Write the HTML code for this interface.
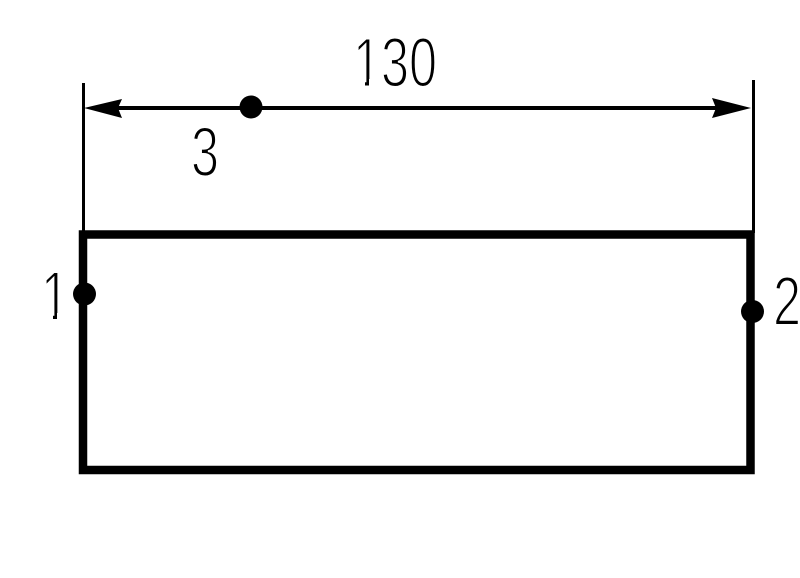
<!DOCTYPE html>
<html>
<head>
<meta charset="utf-8">
<style>
html,body{margin:0;padding:0;background:#fff;width:800px;height:578px;overflow:hidden}
svg{display:block}
text{font-family:"Liberation Sans",sans-serif;font-size:70px;fill:#000;stroke:#fff;stroke-width:2px;paint-order:normal}
</style>
</head>
<body>
<svg width="800" height="578" viewBox="0 0 800 578" xmlns="http://www.w3.org/2000/svg">
<rect width="800" height="578" fill="#fff"/>
<!-- labels -->
<text transform="translate(353 86.5) scale(.72 1)">130</text>
<text transform="translate(191 176) scale(.72 1)">3</text>
<text transform="translate(41 320) scale(.72 1)">1</text>
<text transform="translate(773 325) scale(.72 1)">2</text>
<!-- remove the foot of each 1 -->
<rect x="352" y="79" width="13" height="10" fill="#fff"/>
<rect x="369" y="79" width="11" height="10" fill="#fff"/>
<rect x="40" y="313" width="13" height="10" fill="#fff"/>
<rect x="57" y="313" width="12" height="10" fill="#fff"/>
<!-- extension lines -->
<rect x="82" y="83" width="3" height="150" fill="#000"/>
<rect x="752" y="80" width="3" height="153" fill="#000"/>
<!-- rectangle -->
<rect x="83" y="234.5" width="667.5" height="235.5" fill="none" stroke="#000" stroke-width="8.5"/>
<!-- dimension line -->
<rect x="100" y="106" width="630" height="4" fill="#000"/>
<polygon points="84,108 122,99 118,108 122,118" fill="#000"/>
<polygon points="751,108 712,98 716,108 712,118" fill="#000"/>
<!-- dots -->
<circle cx="251" cy="107" r="11.5" fill="#000"/>
<circle cx="84.5" cy="294" r="11.5" fill="#000"/>
<circle cx="752.5" cy="311.5" r="11.5" fill="#000"/>
</svg>
</body>
</html>
